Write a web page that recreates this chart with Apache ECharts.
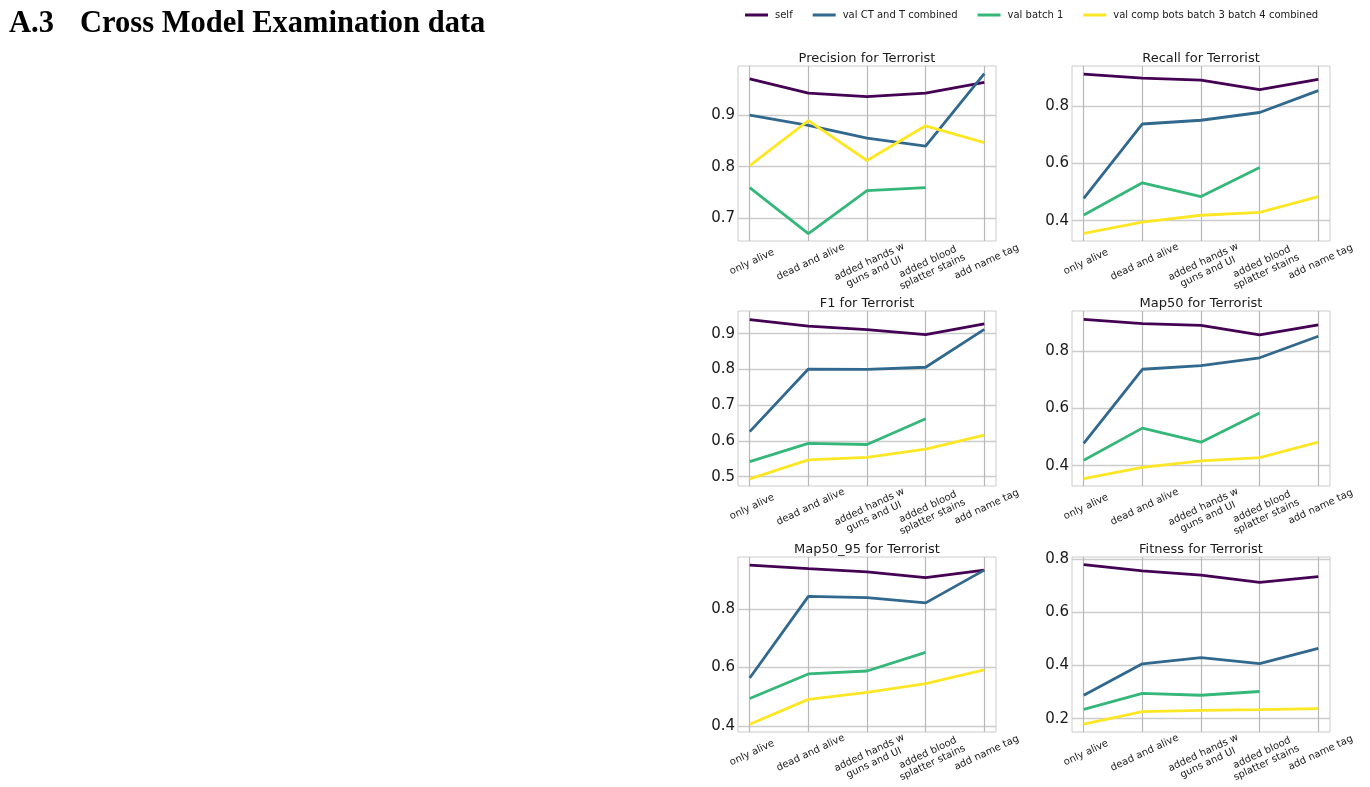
<!DOCTYPE html>
<html>
<head>
<meta charset="utf-8">
<title>Cross Model Examination data</title>
<script src="https://cdn.jsdelivr.net/npm/echarts@6/dist/echarts.min.js"></script>
<style>
  html, body { margin: 0; padding: 0; background: #ffffff; }
  #chart { width: 1370px; height: 787px; }
</style>
</head>
<body>
<div id="chart"></div>
<script>
// Training-set variants on the x axis
const categories = ['only alive', 'dead and alive', 'added hands w\nguns and UI', 'added blood\nsplatter stains', 'add name tag'];

// Validation sets (one line each)
const seriesNames = ['self', 'val CT and T combined', 'val batch 1', 'val comp bots batch 3 batch 4 combined'];
const seriesColors = ['#440154', '#31688e', '#35b779', '#fde725'];

// Metric values, ordered as seriesNames; "val batch 1" has no run for the last variant
const precision = [
  [0.972, 0.944, 0.937, 0.944, 0.965],
  [0.901, 0.881, 0.856, 0.840, 0.982],
  [0.759, 0.669, 0.753, 0.759],
  [0.802, 0.890, 0.812, 0.880, 0.847]
];
const recall = [
  [0.911, 0.897, 0.890, 0.857, 0.892],
  [0.478, 0.737, 0.750, 0.777, 0.853],
  [0.420, 0.532, 0.484, 0.585],
  [0.356, 0.395, 0.419, 0.429, 0.484]
];
const f1 = [
  [0.939, 0.921, 0.911, 0.897, 0.927],
  [0.626, 0.801, 0.800, 0.806, 0.912],
  [0.542, 0.593, 0.590, 0.662],
  [0.494, 0.547, 0.554, 0.577, 0.616]
];
const map50 = [
  [0.910, 0.895, 0.889, 0.856, 0.891],
  [0.478, 0.736, 0.749, 0.776, 0.851],
  [0.419, 0.531, 0.482, 0.584],
  [0.355, 0.394, 0.417, 0.428, 0.482]
];
const map50_95 = [
  [0.950, 0.938, 0.927, 0.907, 0.933],
  [0.564, 0.843, 0.839, 0.821, 0.933],
  [0.494, 0.578, 0.588, 0.652],
  [0.406, 0.491, 0.515, 0.545, 0.592]
];
const fitness = [
  [0.779, 0.755, 0.739, 0.712, 0.734],
  [0.288, 0.406, 0.429, 0.407, 0.464],
  [0.235, 0.295, 0.288, 0.302],
  [0.179, 0.226, 0.231, 0.234, 0.238]
];

// Y tick labels per panel
const precisionTicks = [0.7, 0.8, 0.9];
const recallTicks = [0.4, 0.6, 0.8];
const f1Ticks = [0.5, 0.6, 0.7, 0.8, 0.9];
const map50Ticks = [0.4, 0.6, 0.8];
const map50_95Ticks = [0.4, 0.6, 0.8];
const fitnessTicks = [0.2, 0.4, 0.6, 0.8];

// Panel layout: data, ticks, y range, position
const panels = [
  { title: 'Precision for Terrorist', data: precision, ticks: precisionTicks, yMin: 0.6545, yMax: 0.997, left: 738, top: 66, titleTop: 52 },
  { title: 'Recall for Terrorist', data: recall, ticks: recallTicks, yMin: 0.3293, yMax: 0.939, left: 1072, top: 66, titleTop: 52 },
  { title: 'F1 for Terrorist', data: f1, ticks: f1Ticks, yMin: 0.474, yMax: 0.9633, left: 738, top: 311, titleTop: 297 },
  { title: 'Map50 for Terrorist', data: map50, ticks: map50Ticks, yMin: 0.3293, yMax: 0.939, left: 1072, top: 311, titleTop: 297 },
  { title: 'Map50_95 for Terrorist', data: map50_95, ticks: map50_95Ticks, yMin: 0.3795, yMax: 0.9778, left: 738, top: 557, titleTop: 543 },
  { title: 'Fitness for Terrorist', data: fitness, ticks: fitnessTicks, yMin: 0.1498, yMax: 0.8075, left: 1072, top: 557, titleTop: 543 }
];
const panelWidth = 258;
const panelHeight = 175;
const font = 'DejaVu Sans';

const headingStyle = { fontFamily: 'Liberation Serif', fontWeight: 'bold', fontSize: 30.5, color: '#000' };
const titles = [
  { text: 'A.3', left: 9, top: 9, padding: 0, textStyle: headingStyle },
  { text: 'Cross Model Examination data', left: 80, top: 9, padding: 0, textStyle: headingStyle }
];
const grids = [];
const xAxes = [];
const yAxes = [];
const series = [];

panels.forEach((p, gi) => {
  titles.push({
    text: p.title,
    left: p.left + panelWidth / 2,
    textAlign: 'center',
    top: p.titleTop,
    padding: 0,
    textStyle: { fontFamily: font, fontWeight: 'normal', fontSize: 13, color: '#1a1a1a' }
  });
  grids.push({
    left: p.left, top: p.top, width: panelWidth, height: panelHeight,
    show: true, borderColor: '#cccccc', borderWidth: 1, backgroundColor: 'transparent'
  });
  const idx = categories.map((c, i) => i);
  xAxes.push({
    type: 'value', gridIndex: gi, min: -0.2, max: 4.2,
    axisLine: { show: false },
    axisTick: { show: false, customValues: idx },
    axisLabel: {
      customValues: idx,
      formatter: v => categories[Math.round(v)],
      rotate: 25, align: 'center', verticalAlign: 'top', margin: 16,
      fontFamily: font, fontSize: 10, color: '#1a1a1a', lineHeight: 11
    },
    splitLine: { show: true, lineStyle: { color: '#b8b8b8', width: 1.2 } }
  });
  yAxes.push({
    type: 'value', gridIndex: gi, min: p.yMin, max: p.yMax,
    axisLine: { show: false },
    axisTick: { show: false, customValues: p.ticks },
    axisLabel: {
      customValues: p.ticks,
      formatter: v => v.toFixed(1),
      margin: 3, fontFamily: font, fontSize: 15, color: '#1a1a1a'
    },
    splitLine: { show: true, lineStyle: { color: '#cccccc', width: 1.4 } }
  });
  p.data.forEach((vals, si) => {
    series.push({
      type: 'line', name: seriesNames[si],
      xAxisIndex: gi, yAxisIndex: gi,
      data: vals.map((v, i) => [i, v]),
      showSymbol: false, symbol: 'none',
      lineStyle: { color: seriesColors[si], width: 2.8 },
      itemStyle: { color: seriesColors[si] },
      z: 2 + si
    });
  });
});

const chart = echarts.init(document.getElementById('chart'), null, { renderer: 'canvas' });
chart.setOption({
  animation: false,
  backgroundColor: '#ffffff',
  title: titles,
  legend: {
    data: seriesNames,
    left: 745, top: 10,
    icon: 'rect', itemWidth: 23, itemHeight: 3, itemGap: 20,
    padding: 0,
    textStyle: { fontFamily: font, fontSize: 10, color: '#1a1a1a', padding: [0, 0, 0, 2] }
  },
  grid: grids,
  xAxis: xAxes,
  yAxis: yAxes,
  series: series
});
</script>
</body>
</html>
